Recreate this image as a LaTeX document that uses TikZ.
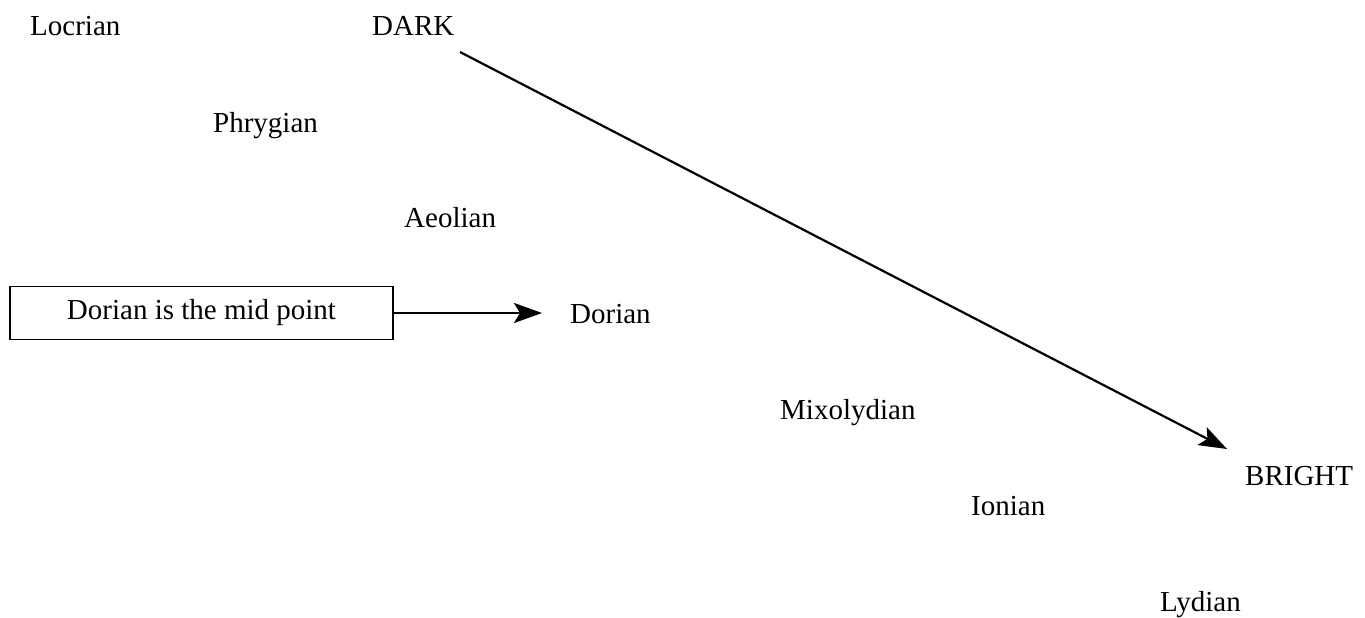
\documentclass[tikz,border=0pt]{standalone}
\usepackage{fontspec}
\setmainfont{Liberation Serif}
\usetikzlibrary{arrows.meta}
\begin{document}
\begin{tikzpicture}[x=1pt,y=-1pt,
  lbl/.style={inner sep=0pt,anchor=base west,font=\fontsize{29}{32}\selectfont},
  conn/.style={line width=2.2pt,-{Stealth[length=28pt,width=20pt,inset=6pt]}}]
\useasboundingbox (0,0) rectangle (1365,618);
\node[lbl] (locrian) at (30,36) {Locrian};
\node[lbl] (dark) at (372,36) {DARK};
\node[lbl] (phrygian) at (213,132) {Phrygian};
\node[lbl] (aeolian) at (404,227) {Aeolian};
\node[lbl] (dorian) at (570,323) {Dorian};
\node[lbl] (mixo) at (780,419) {Mixolydian};
\node[lbl] (bright) at (1245,485) {BRIGHT};
\node[lbl] (ionian) at (971,515) {Ionian};
\node[lbl] (lydian) at (1160,611) {Lydian};
\node[draw,line width=1.6pt,minimum width=383pt,minimum height=53pt,inner sep=0pt,
  font=\fontsize{29}{32}\selectfont] (box) at (201.5,313) {Dorian is the mid point};
\coordinate (ds) at (460,52);
\coordinate (be) at (1227,449);
\coordinate (dt) at (542,313);
\draw[conn] (ds) -- (be);
\draw[conn] (box.east) -- (dt);
\end{tikzpicture}
\end{document}
